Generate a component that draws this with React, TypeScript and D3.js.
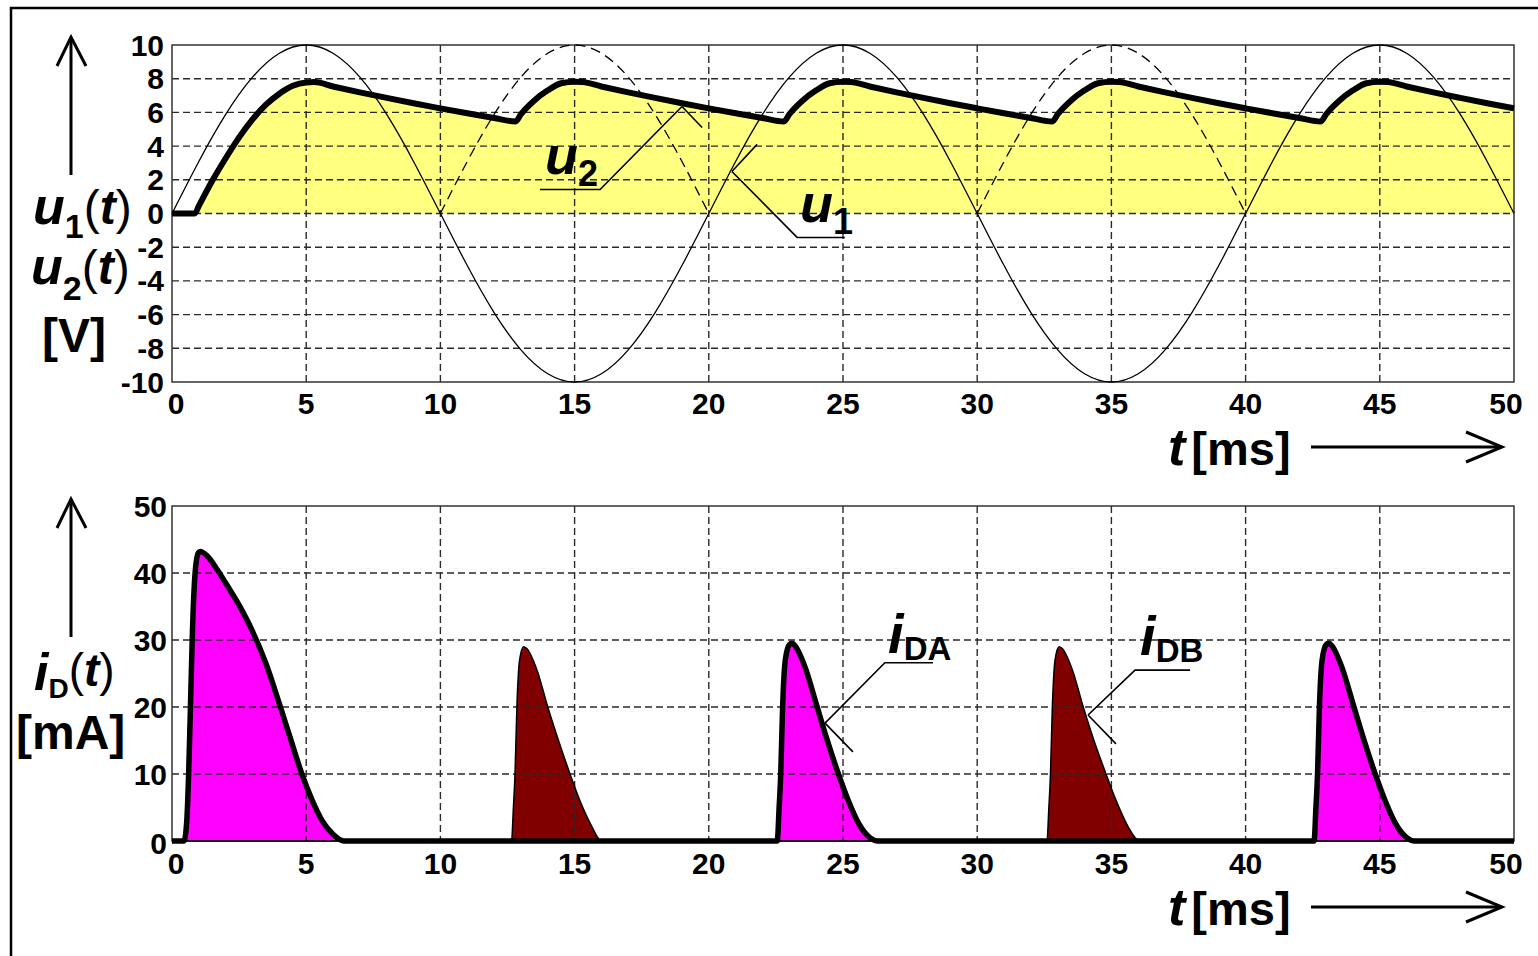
import React from 'react'
import * as d3 from 'd3'

const FONT = '"Liberation Sans", Arial, sans-serif'

// axis ticks
const timeTicks = [0, 5, 10, 15, 20, 25, 30, 35, 40, 45, 50]
const voltTicks = [-10, -8, -6, -4, -2, 0, 2, 4, 6, 8, 10]
const currentTicks = [0, 10, 20, 30, 40, 50]

// u1(t) - source voltage, sampled every 1 ms
const u1Time = [
  0, 1, 2, 3, 4, 5, 6, 7, 8, 9, 10, 11, 12, 13, 14, 15, 16, 17, 18, 19, 20,
  21, 22, 23, 24, 25, 26, 27, 28, 29, 30, 31, 32, 33, 34, 35, 36, 37, 38, 39, 40,
  41, 42, 43, 44, 45, 46, 47, 48, 49, 50
]
const u1Value = [
  0, 3.09, 5.88, 8.09, 9.51, 10, 9.51, 8.09, 5.88, 3.09, 0,
  -3.09, -5.88, -8.09, -9.51, -10, -9.51, -8.09, -5.88, -3.09, 0,
  3.09, 5.88, 8.09, 9.51, 10, 9.51, 8.09, 5.88, 3.09, 0,
  -3.09, -5.88, -8.09, -9.51, -10, -9.51, -8.09, -5.88, -3.09, 0,
  3.09, 5.88, 8.09, 9.51, 10, 9.51, 8.09, 5.88, 3.09, 0
]
// windows where -u1 is drawn dashed
const mirroredWindows = [[10, 20], [30, 40]]

// u2(t) - filtered output voltage
const u2Time = [
  0, 0.85, 1, 1.5, 2, 2.5, 3, 3.5, 4, 4.5, 5, 5.3, 6, 7, 8, 9, 10, 11, 12, 12.8,
  13, 13.5, 14, 14.5, 15, 15.3, 16, 17, 18, 19, 20, 21, 22, 22.8,
  23, 23.5, 24, 24.5, 25, 25.3, 26, 27, 28, 29, 30, 31, 32, 32.8,
  33, 33.5, 34, 34.5, 35, 35.3, 36, 37, 38, 39, 40, 41, 42, 42.8,
  43, 43.5, 44, 44.5, 45, 45.3, 46, 47, 48, 49, 50
]
const u2Value = [
  0, 0, 0.45, 1.94, 3.28, 4.52, 5.59, 6.46, 7.11, 7.58, 7.78, 7.8, 7.54, 7.19, 6.86, 6.54, 6.24, 5.95, 5.67, 5.46,
  5.89, 6.71, 7.31, 7.73, 7.82, 7.8, 7.54, 7.19, 6.86, 6.54, 6.24, 5.95, 5.67, 5.46,
  5.89, 6.71, 7.31, 7.73, 7.82, 7.8, 7.54, 7.19, 6.86, 6.54, 6.24, 5.95, 5.67, 5.46,
  5.89, 6.71, 7.31, 7.73, 7.82, 7.8, 7.54, 7.19, 6.86, 6.54, 6.24, 5.95, 5.67, 5.46,
  5.89, 6.71, 7.31, 7.73, 7.82, 7.8, 7.54, 7.19, 6.86, 6.54, 6.24
]

// iDA(t) - diode A current [mA]
const iDATime = [
  0, 0.45, 0.55, 0.62, 0.7, 0.76, 0.86, 0.98, 1.05, 1.3, 1.7, 2, 2.5, 3, 3.5, 4, 4.42, 4.84, 5.2, 5.6, 6, 6.4,
  22.55, 22.62, 22.68, 22.75, 22.85, 23, 23.1, 23.2, 23.6, 24, 24.4, 24.83, 25.2, 25.6, 26, 26.3,
  42.55, 42.62, 42.68, 42.75, 42.85, 43, 43.1, 43.2, 43.6, 44, 44.4, 44.83, 45.2, 45.6, 46, 46.3,
  50
]
const iDAValue = [
  0, 0, 3, 10, 22, 31, 40, 43, 43.2, 42.6, 40.4, 38.5, 35.2, 31.3, 26.5, 20.5, 15.2, 10, 6.3, 3, 1, 0,
  0, 5, 10, 20, 27, 29.3, 29.5, 29.2, 25.8, 20.5, 15.2, 10, 6, 2.5, 0.5, 0,
  0, 5, 10, 20, 27, 29.3, 29.5, 29.2, 25.8, 20.5, 15.2, 10, 6, 2.5, 0.5, 0,
  0
]

// iDB(t) - diode B current [mA]
const iDBTime = [
  0, 12.65, 12.72, 12.78, 12.85, 12.95, 13.1, 13.2, 13.6, 14, 14.4, 14.83, 15.2, 15.6, 16,
  32.6, 32.67, 32.73, 32.8, 32.9, 33.05, 33.15, 33.55, 33.95, 34.35, 34.8, 35.2, 35.6, 36.05,
  50
]
const iDBValue = [
  0, 0, 5, 10, 20, 27, 29, 28.8, 25.5, 20, 15, 10, 6, 2.5, 0,
  0, 5, 10, 20, 27, 29, 28.8, 25.5, 20, 15, 10, 5.8, 2.3, 0,
  0
]

// leader annotations, in data units: label anchor, line end, elbow, point on curve, tick end
const voltNotes = [
  { name: 'u', sub: '2', label: [13.9, 2.37], end: [13.71, 1.42], elbow: [15.95, 1.42], hit: [19.0, 6.35], tick: [19.75, 5.1] },
  { name: 'u', sub: '1', label: [23.4, -0.53], end: [25.07, -1.42], elbow: [23.29, -1.42], hit: [20.86, 2.49], tick: [21.8, 4.1] }
]
const currentNotes = [
  { name: 'i', sub: 'DA', label: [26.68, 28.1], end: [28.35, 26.6], elbow: [26.56, 26.6], hit: [24.33, 17.6], tick: [25.37, 13.3] },
  { name: 'i', sub: 'DB', label: [36.07, 27.8], end: [37.93, 25.5], elbow: [35.88, 25.5], hit: [34.13, 18.8], tick: [35.17, 14.5] }
]

const W = 1538
const H = 956
const left = 172
const right = 1514

const x = d3.scaleLinear().domain([0, 50]).range([left, right])
const yV = d3.scaleLinear().domain([-10, 10]).range([382, 45])
const yI = d3.scaleLinear().domain([0, 50]).range([841, 506])

const zip = (ts: number[], vs: number[]) => ts.map((t, i) => [t, vs[i]] as [number, number])

function Grid({ y, ticks, top, bottom }: any) {
  return (
    <g stroke="#2a2a2a" strokeWidth={1.4} strokeDasharray="7,4" fill="none">
      {timeTicks.slice(1, -1).map(t => (
        <line key={'v' + t} x1={x(t)} x2={x(t)} y1={top} y2={bottom} />
      ))}
      {ticks.slice(1, -1).map((v: number) => (
        <line key={'h' + v} x1={left} x2={right} y1={y(v)} y2={y(v)} />
      ))}
    </g>
  )
}

function TimeLabel({ yBase }: { yBase: number }) {
  return (
    <g>
      <text x={1168} y={yBase} fontFamily={FONT} fontWeight="bold" fontSize={47}>
        <tspan fontStyle="italic" fontSize={52}>t</tspan>
        <tspan dx={6}>[ms]</tspan>
      </text>
      <g stroke="#000" strokeWidth={3} fill="none">
        <line x1={1311} x2={1500} y1={yBase - 18} y2={yBase - 18} />
        <polyline points={`${1466},${yBase - 33} ${1502},${yBase - 18} ${1466},${yBase - 3}`} />
      </g>
    </g>
  )
}

function UpArrow({ top, bottom }: { top: number; bottom: number }) {
  return (
    <g stroke="#000" strokeWidth={3} fill="none">
      <line x1={71} x2={71} y1={top} y2={bottom} />
      <polyline points={`57,${top + 29} 71,${top} 86,${top + 29}`} />
    </g>
  )
}

function Note({ n, y, nameSize, subSize, subDy }: any) {
  const p = (d: number[]) => [x(d[0]), y(d[1])]
  const [lx, ly] = p(n.label)
  const pts = [p(n.end), p(n.elbow), p(n.hit)]
  const [hx, hy] = p(n.hit)
  const [tx, ty] = p(n.tick)
  return (
    <g>
      <polyline points={pts.map(q => q.join(',')).join(' ')} stroke="#000" strokeWidth={1.6} fill="none" />
      <line x1={hx} y1={hy} x2={tx} y2={ty} stroke="#000" strokeWidth={1.6} />
      <text x={lx} y={ly} fontFamily={FONT} fontWeight="bold">
        <tspan fontStyle="italic" fontSize={nameSize}>{n.name}</tspan>
        <tspan fontSize={subSize} dy={subDy}>{n.sub}</tspan>
      </text>
    </g>
  )
}

export default function App() {
  const u1 = zip(u1Time, u1Value)
  const u2 = zip(u2Time, u2Value)
  const iDA = zip(iDATime, iDAValue)
  const iDB = zip(iDBTime, iDBValue)

  const lineV = d3.line<[number, number]>().x(d => x(d[0])).y(d => yV(d[1])).curve(d3.curveNatural)
  const u1Path = lineV(u1) || ''
  const mirroredPaths = mirroredWindows.map(([a, b]) =>
    lineV(u1.filter(d => d[0] >= a && d[0] <= b).map(d => [d[0], -d[1]] as [number, number])) || ''
  )
  const u2Line = d3.line<[number, number]>().x(d => x(d[0])).y(d => yV(d[1])).curve(d3.curveMonotoneX)(u2) || ''
  const u2Area = d3.area<[number, number]>().x(d => x(d[0])).y0(yV(0)).y1(d => yV(d[1])).curve(d3.curveMonotoneX)(u2) || ''

  const lineI = d3.line<[number, number]>().x(d => x(d[0])).y(d => yI(d[1])).curve(d3.curveMonotoneX)
  const areaI = d3.area<[number, number]>().x(d => x(d[0])).y0(yI(0)).y1(d => yI(d[1])).curve(d3.curveMonotoneX)

  const xTickX = (t: number) => x(t) + (t === 0 ? 4 : t === 50 ? -8 : 0)

  return (
    <svg width={W} height={H} style={{ position: 'absolute', left: 0, top: 0, background: '#fff' }}>
      {/* outer frame */}
      <rect x={11} y={8} width={W + 20} height={H + 20} fill="none" stroke="#000" strokeWidth={2.5} />

      {/* ---------- top plot ---------- */}
      <path d={u2Area} fill="#ffff80" />
      <Grid y={yV} ticks={voltTicks} top={45} bottom={382} />
      <rect x={left} y={45} width={right - left} height={382 - 45} fill="none" stroke="#333" strokeWidth={1.5} />
      <path d={u1Path} fill="none" stroke="#000" strokeWidth={1.3} />
      {mirroredPaths.map((d, i) => (
        <path key={i} d={d} fill="none" stroke="#000" strokeWidth={1.3} strokeDasharray="10,6" />
      ))}
      <path d={u2Line} fill="none" stroke="#000" strokeWidth={6} strokeLinejoin="round" />
      {voltNotes.map((n, i) => (
        <Note key={i} n={n} y={yV} nameSize={54} subSize={36} subDy={12} />
      ))}

      <g fontFamily={FONT} fontWeight="bold" fontSize={30}>
        {voltTicks.map(v => (
          <text key={v} x={164} y={yV(v)} textAnchor="end" dominantBaseline="central">{v}</text>
        ))}
        {timeTicks.map(t => (
          <text key={t} x={xTickX(t)} y={414} textAnchor="middle">{t}</text>
        ))}
      </g>

      <UpArrow top={37} bottom={175} />
      <text x={33} y={224} fontFamily={FONT} fontWeight="bold" fontSize={48}>
        <tspan fontStyle="italic" fontSize={52}>u</tspan>
        <tspan fontSize={34} dy={14}>1</tspan>
        <tspan dy={-14} fontWeight="normal">(</tspan>
        <tspan fontStyle="italic">t</tspan>
        <tspan fontWeight="normal">)</tspan>
      </text>
      <text x={31} y={284} fontFamily={FONT} fontWeight="bold" fontSize={48}>
        <tspan fontStyle="italic" fontSize={52}>u</tspan>
        <tspan fontSize={34} dy={16}>2</tspan>
        <tspan dy={-16} fontWeight="normal">(</tspan>
        <tspan fontStyle="italic">t</tspan>
        <tspan fontWeight="normal">)</tspan>
      </text>
      <text x={42} y={352} fontFamily={FONT} fontWeight="bold" fontSize={48}>[V]</text>
      <TimeLabel yBase={465} />

      {/* ---------- bottom plot ---------- */}
      <path d={areaI(iDA) || ''} fill="#ff00ff" />
      <path d={areaI(iDB) || ''} fill="#800000" />
      <Grid y={yI} ticks={currentTicks} top={506} bottom={841} />
      <rect x={left} y={506} width={right - left} height={841 - 506} fill="none" stroke="#333" strokeWidth={1.5} />
      <path d={lineI(iDB) || ''} fill="none" stroke="#000" strokeWidth={1.5} />
      <path d={lineI(iDA) || ''} fill="none" stroke="#000" strokeWidth={5.5} strokeLinejoin="round" />
      {currentNotes.map((n, i) => (
        <Note key={i} n={n} y={yI} nameSize={56} subSize={33} subDy={7} />
      ))}

      <g fontFamily={FONT} fontWeight="bold" fontSize={30}>
        {currentTicks.map(v => (
          <text key={v} x={167} y={yI(v) + (v === 0 ? 2 : 0)} textAnchor="end" dominantBaseline="central">{v}</text>
        ))}
        {timeTicks.map(t => (
          <text key={t} x={xTickX(t)} y={874} textAnchor="middle">{t}</text>
        ))}
      </g>

      <UpArrow top={499} bottom={637} />
      <text x={34} y={690} fontFamily={FONT} fontWeight="bold" fontSize={46}>
        <tspan fontStyle="italic" fontSize={52}>i</tspan>
        <tspan fontSize={28} dy={8}>D</tspan>
        <tspan dy={-12} fontWeight="normal">(</tspan>
        <tspan fontStyle="italic">t</tspan>
        <tspan fontWeight="normal">)</tspan>
      </text>
      <text x={16} y={749} fontFamily={FONT} fontWeight="bold" fontSize={48}>[mA]</text>
      <TimeLabel yBase={925} />
    </svg>
  )
}
